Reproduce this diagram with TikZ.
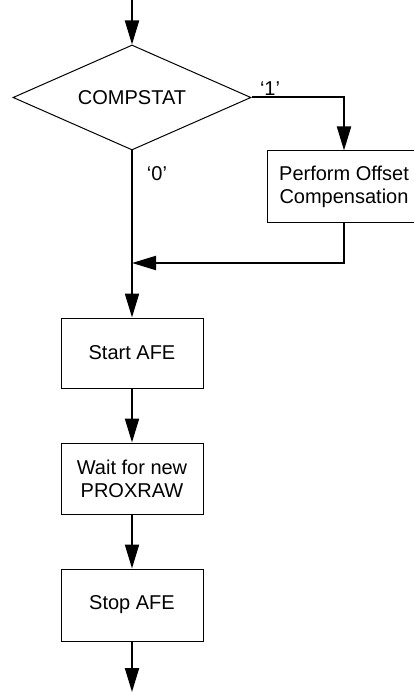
\documentclass[tikz,border=0pt]{standalone}
\usepackage{fontspec}
\setmainfont{Liberation Sans}
\usetikzlibrary{shapes.geometric,arrows.meta}
\begin{document}
\begin{tikzpicture}[x=1pt,y=-1pt,
  every node/.style={font=\fontsize{20}{23}\selectfont},
  procbox/.style={draw, line width=1pt, rectangle, align=center, inner sep=0pt},
  decision/.style={draw, line width=1pt, diamond, aspect=2.3, inner sep=0pt, minimum width=238pt, minimum height=105pt},
  arr/.style={line width=2pt, -{Triangle[length=24pt,width=14pt]}},
  lbl/.style={inner sep=0pt}
]
\useasboundingbox (0,0) rectangle (414,692);
\coordinate (top) at (132,0);
\node[decision] (d) at (132,97.5) {COMPSTAT};
\node[procbox, minimum width=154pt, minimum height=72pt] (po) at (344,187) {Perform Offset\\Compensation};
\coordinate (m) at (132,263);
\node[procbox, minimum width=142pt, minimum height=70pt] (sa) at (132,353) {Start AFE};
\node[procbox, minimum width=142pt, minimum height=71pt] (wt) at (132,478.5) {Wait for new\\PROXRAW};
\node[procbox, minimum width=142pt, minimum height=72pt] (so) at (132,605) {Stop AFE};
\coordinate (bot) at (132,692);
\node[lbl] (l1) at (270,89) {‘1’};
\node[lbl] (l0) at (157,174) {‘0’};
\draw[arr] (top) -- (d.north);
\draw[arr] (d.east) -| (po.north);
\draw[arr] (po.south) |- (m);
\draw[arr] (d.south) -- (sa.north);
\draw[arr] (sa.south) -- (wt.north);
\draw[arr] (wt.south) -- (so.north);
\draw[arr] (so.south) -- (bot);
\end{tikzpicture}
\end{document}
